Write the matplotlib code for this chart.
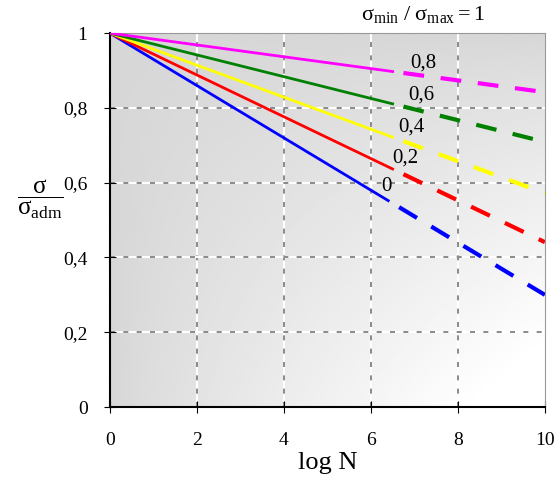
import matplotlib.pyplot as plt
import numpy as np

# datos
razones = ["0", "0,2", "0,4", "0,6", "0,8"]
colores = ["blue", "red", "yellow", "green", "magenta"]
x_inicio = [0, 0, 0, 0, 0]
x_quiebre = [6.4, 6.5, 6.5, 6.5, 6.5]
x_fin = [10, 10, 10, 10, 10]
y_inicio = [1.0, 1.0, 1.0, 1.0, 1.0]
y_fin = [0.30, 0.441, 0.572, 0.709, 0.842]
y_ticks = [0, 0.2, 0.4, 0.6, 0.8, 1]
y_tick_labels = ["0", "0,2", "0,4", "0,6", "0,8", "1"]
x_ticks = [0, 2, 4, 6, 8, 10]
etiqueta_x = [6.25, 6.5, 6.62, 6.85, 6.9]
etiqueta_y = [0.591, 0.666, 0.749, 0.834, 0.92]

plt.rcParams['font.family'] = ['Liberation Serif', 'DejaVu Serif']
plt.rcParams['mathtext.fontset'] = 'stix'

fig = plt.figure(figsize=(5.6, 4.8), dpi=100)
ax = fig.add_axes([0.196, 0.152, 0.777, 0.779])

# fondo degradado gris (claro abajo a la derecha)
gx, gy = np.meshgrid(np.linspace(0, 1, 200), np.linspace(0, 1, 200))
fondo = 0.84 + 0.16 * np.clip((gx * gy) ** 0.8 * 1.15, 0, 1)
ax.imshow(fondo, extent=[0, 10, 0, 1], origin='upper', cmap='gray',
          vmin=0, vmax=1, aspect='auto', zorder=0)

# cuadricula
for xv in x_ticks[1:-1]:
    ax.axvline(xv, color='white', lw=1.5, zorder=1)
    ax.axvline(xv, color='#777777', lw=1.2, ls=(0, (3, 5)), zorder=1)
for yv in y_ticks[1:-1]:
    ax.axhline(yv, color='white', lw=1.5, zorder=1)
    ax.axhline(yv, color='#777777', lw=1.2, ls=(0, (3, 5)), zorder=1)

for i in range(len(razones)):
    pend = (y_fin[i] - y_inicio[i]) / (x_fin[i] - x_inicio[i])
    y_q = y_inicio[i] + pend * (x_quiebre[i] - x_inicio[i])
    ax.plot([x_inicio[i], x_quiebre[i]], [y_inicio[i], y_q], color=colores[i], lw=2, zorder=3)
    ax.plot([x_quiebre[i] + 0.25, x_fin[i]], [y_q + pend * 0.25, y_fin[i]], color=colores[i], lw=3,
            ls=(0, (5, 4)), zorder=3)
    ax.text(etiqueta_x[i], etiqueta_y[i], razones[i], fontsize=15, ha='left', va='center', zorder=4)

ax.text(7.2, 1.05, r"$\mathregular{σ_{min}\ /\ σ_{max} = 1}$", fontsize=16,
        ha='center', va='center')

ax.set_xlim(0, 10)
ax.set_ylim(0, 1)
ax.set_xticks(x_ticks)
ax.set_yticks(y_ticks)
ax.set_yticklabels(y_tick_labels)
ax.tick_params(direction='inout', length=8, labelsize=14, colors='black')
ax.tick_params(axis='x', pad=14)
ax.tick_params(axis='y', pad=12)
ax.spines['top'].set_color('#999999')
ax.spines['right'].set_color('#999999')
ax.spines['left'].set_linewidth(1.5)
ax.spines['bottom'].set_linewidth(1.5)
ax.set_xlabel("log N", fontsize=19, labelpad=2)

fig.text(0.072, 0.585, r"$\mathregular{\dfrac{σ}{σ_{adm}}}$", fontsize=18, ha='center', va='center')

plt.savefig("out.png")
